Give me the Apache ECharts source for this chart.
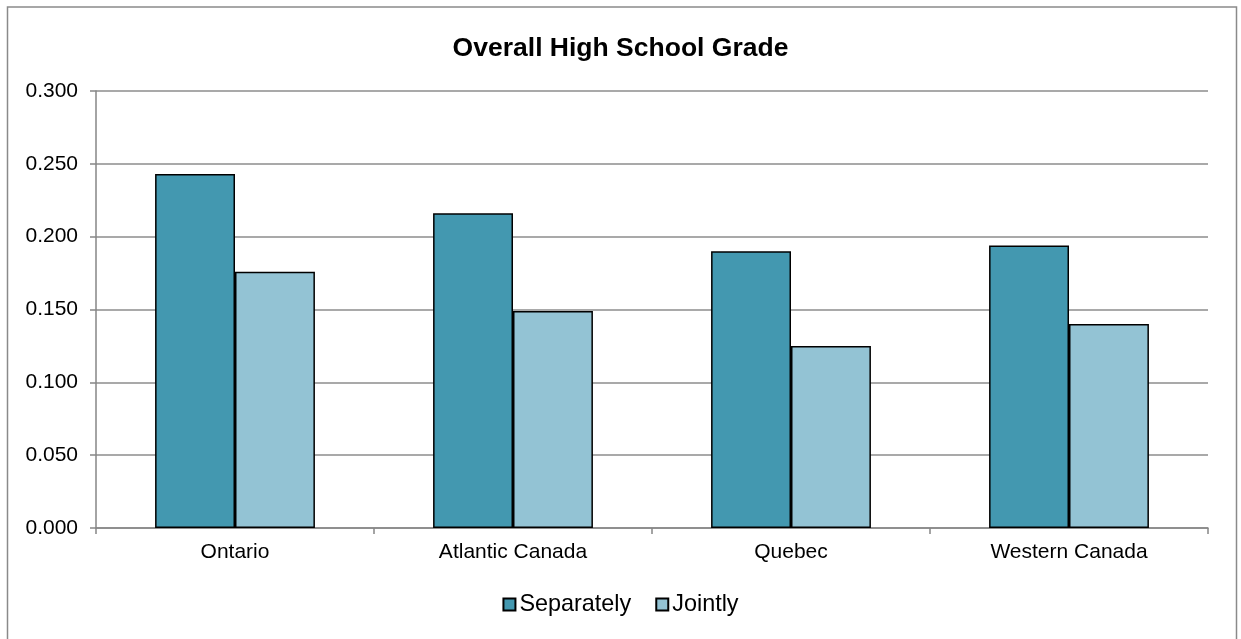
<!DOCTYPE html>
<html>
<head>
<meta charset="utf-8">
<script src="https://cdn.jsdelivr.net/npm/echarts@6/dist/echarts.min.js"></script>
<style>
  html, body { margin: 0; padding: 0; background: #ffffff; }
  #chart { width: 1241px; height: 639px; }
</style>
</head>
<body>
<div id="chart"></div>
<script>
// Regions along the category axis
const regions = ['Ontario', 'Atlantic Canada', 'Quebec', 'Western Canada'];
// Grade effect estimated for each region on its own
const separately = [0.243, 0.216, 0.190, 0.194];
// Grade effect estimated with all regions together
const jointly = [0.176, 0.149, 0.125, 0.140];
// Value axis range and step
const yMin = 0, yMax = 0.3, yStep = 0.05;

const font = '"Liberation Sans", Arial, sans-serif';
const chart = echarts.init(document.getElementById('chart'), null, { renderer: 'canvas' });

chart.setOption({
  backgroundColor: '#ffffff',
  animation: false,
  textStyle: { fontFamily: font },
  title: {
    text: 'Overall High School Grade',
    left: 'center',
    top: 30,
    textStyle: { fontFamily: font, fontSize: 26.5, fontWeight: 'bold', color: '#000000' }
  },
  graphic: [{
    type: 'rect',
    shape: { x: 7.5, y: 7, width: 1229, height: 700 },
    style: { fill: 'none', stroke: '#8a8a8a', lineWidth: 1.5 },
    silent: true,
    z: -1
  }],
  legend: {
    data: ['Separately', 'Jointly'],
    bottom: 18,
    left: 'center',
    itemWidth: 12,
    itemHeight: 12,
    itemGap: 24,
    icon: 'rect',
    textStyle: { fontFamily: font, fontSize: 23.4, color: '#000000', padding: [0, 0, 0, -1] }
  },
  grid: { left: 96, right: 33, top: 91, bottom: 111, containLabel: false },
  xAxis: {
    type: 'category',
    data: regions,
    axisLine: { lineStyle: { color: '#868686', width: 1.5 } },
    axisTick: { show: true, length: 6, lineStyle: { color: '#868686', width: 1.5 } },
    axisLabel: { fontFamily: font, fontSize: 21, color: '#000000', margin: 14 }
  },
  yAxis: {
    type: 'value',
    min: yMin,
    max: yMax,
    interval: yStep,
    axisLine: { show: true, lineStyle: { color: '#868686', width: 1.5 } },
    axisTick: { show: true, length: 6, lineStyle: { color: '#868686', width: 1.5 } },
    axisLabel: {
      fontFamily: font, fontSize: 21, color: '#000000', margin: 18,
      formatter: v => v.toFixed(3)
    },
    splitLine: { lineStyle: { color: '#8c8c8c', width: 1.5 } }
  },
  series: [
    {
      name: 'Separately',
      type: 'bar',
      data: separately,
      barGap: '0%',
      barCategoryGap: '42.5%',
      itemStyle: { color: '#4398B0', borderColor: '#000000', borderWidth: 1.5 }
    },
    {
      name: 'Jointly',
      type: 'bar',
      data: jointly,
      itemStyle: { color: '#93C3D4', borderColor: '#000000', borderWidth: 1.5 }
    }
  ]
});
</script>
</body>
</html>
